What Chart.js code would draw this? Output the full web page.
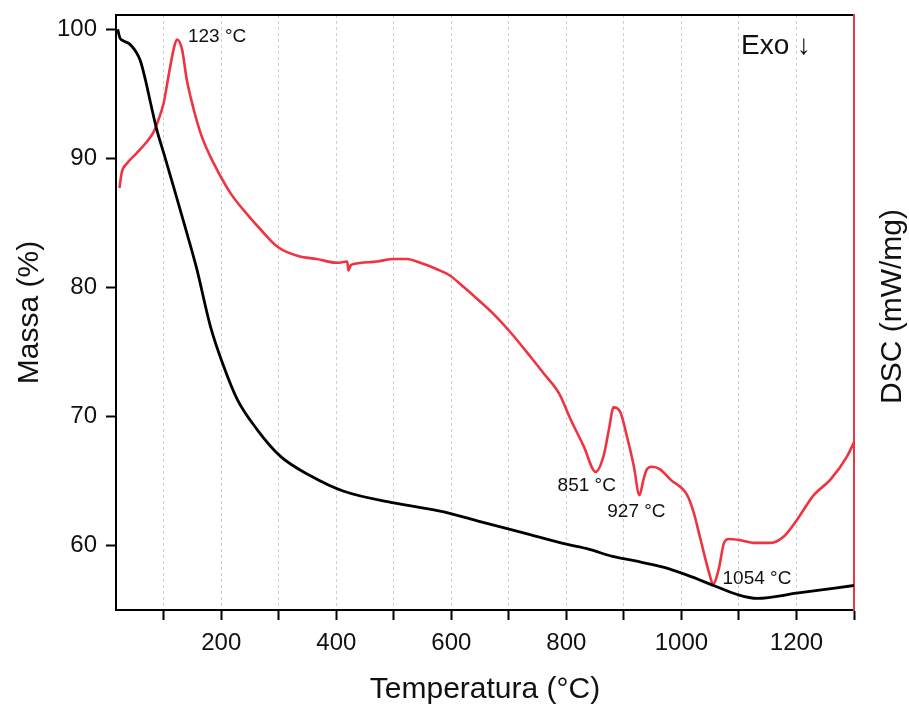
<!DOCTYPE html>
<html>
<head>
<meta charset="utf-8">
<script src="https://cdn.jsdelivr.net/npm/chart.js@4.4.0/dist/chart.umd.min.js"></script>
<style>
    body { margin: 0; background: #fff; }
    #wrap { width: 909px; height: 705px; position: relative; }
</style>
</head>
<body>
<div id="wrap"><canvas id="myChart"></canvas></div>
<script>
// TG curve (mass %)
let tgTemp = [20, 22, 24, 30, 42, 59, 68, 77, 88, 100, 117, 137, 157, 181, 204, 228, 262, 303, 355, 413, 500, 587, 645, 732, 800, 840, 880, 920, 970, 1010, 1056, 1097, 1132, 1200, 1300];
let tgMass = [100.0, 99.6, 99.3, 99.1, 98.8, 97.6, 96.1, 94.3, 92.2, 90.4, 87.8, 84.7, 81.5, 77.0, 73.9, 71.3, 69.0, 66.9, 65.4, 64.2, 63.3, 62.6, 61.9, 60.9, 60.1, 59.7, 59.15, 58.8, 58.3, 57.7, 56.9, 56.2, 55.9, 56.3, 56.9];

// DSC curve (arbitrary units, no scale shown)
let dscTemp = [23, 27, 36, 53, 71, 82, 91, 100, 108, 117, 123, 132, 140, 152, 166, 187, 216, 250, 268, 299, 335, 366, 401, 419, 421, 425, 430, 471, 500, 523, 546, 575, 598, 622, 645, 674, 703, 738, 761, 787, 807, 830, 851, 865, 874, 882, 894, 905, 917, 927, 934, 940, 949, 963, 981, 1010, 1021, 1033, 1048, 1055, 1065, 1074, 1082, 1103, 1126, 1155, 1178, 1201, 1230, 1259, 1288, 1300];
let dscValue = [87.7, 88.9, 89.6, 90.4, 91.3, 92.0, 93.0, 94.3, 96.3, 98.4, 99.2, 98.4, 96.1, 93.8, 91.7, 89.6, 87.3, 85.4, 84.5, 83.1, 82.4, 82.2, 81.9, 82.0, 81.3, 81.7, 81.8, 82.0, 82.2, 82.2, 81.9, 81.4, 80.9, 80.0, 79.1, 77.9, 76.5, 74.6, 73.3, 71.8, 69.8, 67.7, 65.7, 67.0, 69.0, 70.7, 70.3, 68.5, 66.2, 63.9, 65.1, 65.9, 66.1, 65.9, 65.1, 63.9, 62.6, 60.5, 57.9, 57.0, 58.2, 60.2, 60.5, 60.4, 60.2, 60.2, 60.7, 62.0, 63.9, 65.1, 66.9, 68.0];

// peak labels
let peakLabels = ['123 °C', '851 °C', '927 °C', '1054 °C'];
let peakTemp = [123, 851, 927, 1054];
let peakValue = [99.2, 65.7, 63.9, 57.0];

let FONT = "'Liberation Sans', Arial, sans-serif";
let RED = '#ef3340';
let myChart;

// label offsets from the peak point (px) and alignment
let peakStyle = [
    { dx: 11, dy: -3, align: 'left' },
    { dx: -9, dy: 14, align: 'center' },
    { dx: -3, dy: 17, align: 'center' },
    { dx: 10, dy: -5, align: 'left' }
];

const peakPlugin = {
    id: 'peakText',
    afterDatasetsDraw(chart) {
        let ctx = chart.ctx;
        let xs = chart.scales.x;
        let ys = chart.scales.y1;
        ctx.save();
        ctx.fillStyle = '#111';
        ctx.font = '19px ' + FONT;
        ctx.textBaseline = 'middle';
        for (let i = 0; i < peakLabels.length; i++) {
            ctx.textAlign = peakStyle[i].align;
            ctx.fillText(peakLabels[i],
                xs.getPixelForValue(peakTemp[i]) + peakStyle[i].dx,
                ys.getPixelForValue(peakValue[i]) + peakStyle[i].dy);
        }
        ctx.font = '28px ' + FONT;
        ctx.textAlign = 'left';
        ctx.fillText('Exo \u2193', 741, 46);

        // right axis title, read bottom to top
        ctx.translate(xs.right + 39, (ys.top + ys.bottom) / 2 - 6);
        ctx.rotate(-Math.PI / 2);
        ctx.textAlign = 'center';
        ctx.font = '30px ' + FONT;
        ctx.fillText('DSC (mW/mg)', 0, 0);
        ctx.restore();
    }
};

function noPad(s) {
    s.paddingTop = 0;
    s.paddingBottom = 0;
    s.paddingLeft = 0;
    s.paddingRight = 0;
}

function init() {
    let tgData = tgTemp.map((t, i) => ({ x: t, y: tgMass[i] }));
    let dscData = dscTemp.map((t, i) => ({ x: t, y: dscValue[i] }));

    myChart = new Chart(document.getElementById('myChart'), {
        type: 'line',
        data: {
            datasets: [
                {
                    label: 'TG',
                    data: tgData,
                    borderColor: '#000',
                    borderWidth: 2.8,
                    pointRadius: 0,
                    cubicInterpolationMode: 'monotone',
                    yAxisID: 'y'
                },
                {
                    label: 'DSC',
                    data: dscData,
                    borderColor: RED,
                    borderWidth: 2.6,
                    pointRadius: 0,
                    cubicInterpolationMode: 'monotone',
                    yAxisID: 'y1'
                }
            ]
        },
        options: {
            responsive: true,
            maintainAspectRatio: false,
            animation: false,
            layout: { padding: 0 },
            plugins: {
                legend: { display: false },
                tooltip: { enabled: false }
            },
            scales: {
                x: {
                    type: 'linear',
                    position: 'bottom',
                    min: 17,
                    max: 1300,
                    afterFit: (s) => { s.height = 95; noPad(s); },
                    ticks: {
                        stepSize: 100,
                        includeBounds: false,
                        autoSkip: false,
                        maxRotation: 0,
                        padding: 9,
                        color: '#111',
                        font: { family: FONT, size: 24 },
                        callback: (v) => (v % 200 === 0 ? String(v) : '')
                    },
                    grid: {
                        color: (c) => (c.tick && c.tick.value >= 1300 ? 'rgba(0,0,0,0)' : '#cfcfcf'),
                        lineWidth: 1,
                        tickColor: '#000',
                        tickWidth: 2,
                        tickLength: 10
                    },
                    border: { color: '#000', width: 2, dash: [3, 3] },
                    title: {
                        display: true,
                        text: 'Temperatura (°C)',
                        color: '#111',
                        font: { family: FONT, size: 30, lineHeight: 1 },
                        padding: { top: 0, bottom: 0 }
                    }
                },
                xTop: {
                    type: 'linear',
                    position: 'top',
                    min: 17,
                    max: 1300,
                    afterFit: (s) => { s.height = 15; noPad(s); },
                    ticks: { display: false },
                    grid: { display: false, drawTicks: false },
                    border: { color: '#000', width: 2 }
                },
                y: {
                    type: 'linear',
                    position: 'left',
                    min: 55,
                    max: 101.1,
                    afterFit: (s) => { s.width = 116; noPad(s); },
                    ticks: {
                        stepSize: 10,
                        includeBounds: false,
                        padding: 9,
                        color: '#111',
                        font: { family: FONT, size: 24 }
                    },
                    grid: {
                        drawOnChartArea: false,
                        tickColor: '#000',
                        tickWidth: 2,
                        tickLength: 10
                    },
                    border: { color: '#000', width: 2 },
                    title: {
                        display: true,
                        text: 'Massa (%)',
                        color: '#111',
                        font: { family: FONT, size: 30, lineHeight: 1 },
                        padding: { top: 15, bottom: 0 }
                    }
                },
                y1: {
                    type: 'linear',
                    position: 'right',
                    min: 55,
                    max: 101.1,
                    afterFit: (s) => { s.width = 55; noPad(s); },
                    ticks: { display: false },
                    grid: { drawOnChartArea: false, drawTicks: false },
                    border: { color: RED, width: 2 },
                    title: { display: false }
                }
            }
        },
        plugins: [peakPlugin]
    });
}

init();
</script>
</body>
</html>
